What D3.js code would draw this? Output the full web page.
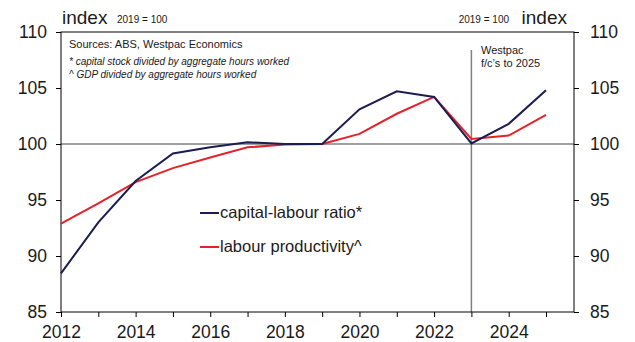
<!DOCTYPE html>
<html>
<head>
<meta charset="utf-8">
<script src="https://cdn.jsdelivr.net/npm/d3@7"></script>
<style>
  html, body { margin: 0; padding: 0; background: #fff; }
  svg { display: block; font-family: Arial, "Liberation Sans", sans-serif; }
</style>
</head>
<body>
<svg id="chart" width="635" height="342"></svg>
<script>
// Annual index values, 2019 = 100
const years = [2012, 2013, 2014, 2015, 2016, 2017, 2018, 2019, 2020, 2021, 2022, 2023, 2024, 2025];
const capitalLabour = [88.45, 93.0, 96.7, 99.15, 99.7, 100.15, 100.0, 100.0, 103.1, 104.7, 104.2, 100.05, 101.8, 104.8];
const labourProductivity = [92.9, 94.7, 96.6, 97.85, 98.8, 99.7, 99.95, 100.0, 100.9, 102.7, 104.2, 100.45, 100.75, 102.6];
const yTicks = [85, 90, 95, 100, 105, 110];
const xTickYears = d3.range(2012, 2026);
const xLabelYears = [2012, 2014, 2016, 2018, 2020, 2022, 2024];
const forecastStart = 2023;

const navy = "#1c1c50";
const red = "#e3222a";

const svg = d3.select("#chart");
const plotLeft = 61, plotRight = 574, plotTop = 32, plotBottom = 312;
const fontStack = "Arial, 'Liberation Sans', sans-serif";

const x = d3.scaleLinear().domain([2012, 2025.75]).range([plotLeft, plotRight]);
const y = d3.scaleLinear().domain([85, 110]).range([plotBottom, plotTop]);

// reference line at 100
svg.append("line")
  .attr("x1", plotLeft).attr("x2", plotRight)
  .attr("y1", y(100)).attr("y2", y(100))
  .attr("stroke", "#7f7f7f").attr("stroke-width", 1.5);

// forecast divider
svg.append("line")
  .attr("x1", x(forecastStart)).attr("x2", x(forecastStart))
  .attr("y1", 50).attr("y2", plotBottom)
  .attr("stroke", "#7f7f7f").attr("stroke-width", 1.5);

// frame
svg.append("rect")
  .attr("x", plotLeft).attr("y", plotTop)
  .attr("width", plotRight - plotLeft).attr("height", plotBottom - plotTop)
  .attr("fill", "none").attr("stroke", "#000").attr("stroke-width", 1);

const styleTicks = g => {
  g.select(".domain").remove();
  g.selectAll("line").attr("stroke", "#000");
  g.selectAll("text").attr("font-size", 17.5).attr("fill", "#1a1a1a").attr("font-family", fontStack);
};

// left axis
svg.append("g").attr("transform", `translate(${plotLeft},0)`)
  .call(d3.axisLeft(y).tickValues(yTicks).tickSize(5).tickPadding(9))
  .call(styleTicks);

// right axis
svg.append("g").attr("transform", `translate(${plotRight},0)`)
  .call(d3.axisRight(y).tickValues(yTicks).tickSize(5).tickPadding(11))
  .call(styleTicks);

// bottom axis: a tick every year, labels every second year
svg.append("g").attr("transform", `translate(0,${plotBottom})`)
  .call(d3.axisBottom(x).tickValues(xTickYears).tickSize(5).tickPadding(9)
    .tickFormat(d => xLabelYears.includes(d) ? String(d) : ""))
  .call(styleTicks);

// series lines
const line = d3.line().x((d, i) => x(years[i])).y(d => y(d));
svg.append("path").datum(labourProductivity)
  .attr("d", line).attr("fill", "none").attr("stroke", red).attr("stroke-width", 2);
svg.append("path").datum(capitalLabour)
  .attr("d", line).attr("fill", "none").attr("stroke", navy).attr("stroke-width", 2);

// headers
svg.append("text").attr("x", 62).attr("y", 24).attr("font-size", 19).attr("fill", "#1a1a1a").text("index");
svg.append("text").attr("x", 117).attr("y", 23).attr("font-size", 10).attr("fill", "#1a1a1a").text("2019 = 100");
svg.append("text").attr("x", 567).attr("y", 24).attr("font-size", 19).attr("fill", "#1a1a1a").attr("text-anchor", "end").text("index");
svg.append("text").attr("x", 509).attr("y", 23).attr("font-size", 10).attr("fill", "#1a1a1a").attr("text-anchor", "end").text("2019 = 100");

// source notes
svg.append("text").attr("x", 69).attr("y", 48).attr("font-size", 11).attr("fill", "#1a1a1a").text("Sources: ABS, Westpac Economics");
svg.append("text").attr("x", 69).attr("y", 65).attr("font-size", 10).attr("font-style", "italic").attr("fill", "#1a1a1a").text("* capital stock divided by aggregate hours worked");
svg.append("text").attr("x", 69).attr("y", 78).attr("font-size", 10).attr("font-style", "italic").attr("fill", "#1a1a1a").text("^ GDP divided by aggregate hours worked");

// forecast note
svg.append("text").attr("x", 481).attr("y", 54).attr("font-size", 11).attr("fill", "#1a1a1a").text("Westpac");
svg.append("text").attr("x", 481).attr("y", 67).attr("font-size", 11).attr("fill", "#1a1a1a").text("f/c\u2019s to 2025");

// legend
const legend = [
  { label: "capital-labour ratio*", color: navy, y: 213 },
  { label: "labour productivity^", color: red, y: 247 }
];
const lg = svg.append("g");
legend.forEach(item => {
  lg.append("line").attr("x1", 200).attr("x2", 219).attr("y1", item.y).attr("y2", item.y)
    .attr("stroke", item.color).attr("stroke-width", 2);
  lg.append("text").attr("x", 220).attr("y", item.y + 5).attr("font-size", 16.5).attr("fill", "#1a1a1a").text(item.label);
});
</script>
</body>
</html>
